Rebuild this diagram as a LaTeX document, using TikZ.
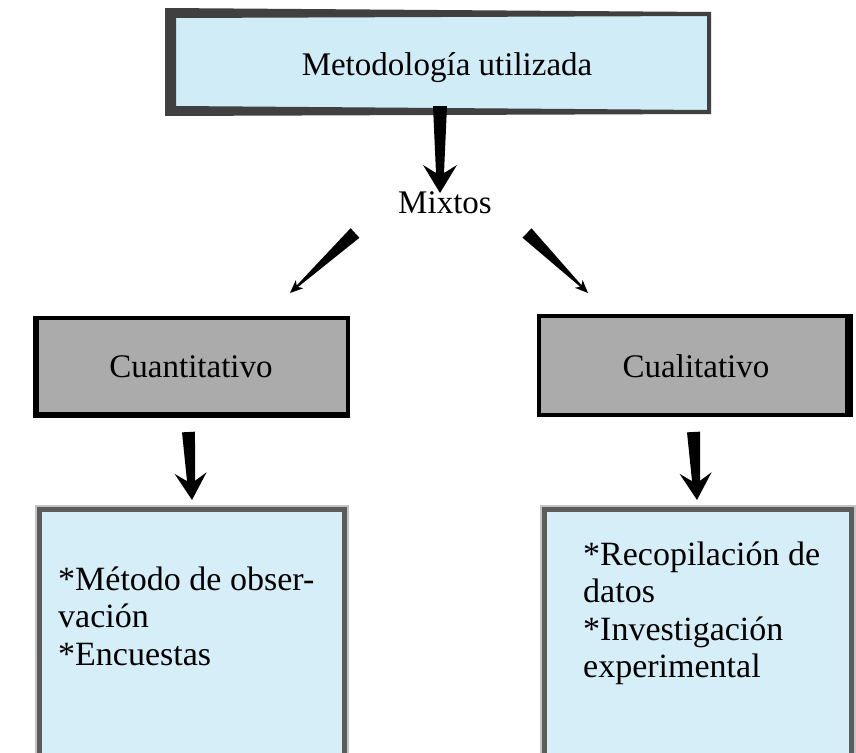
\documentclass[tikz,border=0pt]{standalone}
\usepackage{fontspec}
\setmainfont{Liberation Serif}
\usetikzlibrary{calc}
\definecolor{topblue}{HTML}{D0ECF7}
\definecolor{botblue}{HTML}{D6EEF8}
\definecolor{topborder}{HTML}{404040}
\definecolor{boxgray}{HTML}{ABABAB}
\definecolor{botborder}{HTML}{5C5C5C}
\definecolor{botouter}{HTML}{C4C4C4}
\newcommand\taper[7]{%
  \coordinate (tpN) at ($(#2)!#7!(#1)$);
  \coordinate (tpH) at ($(#2)!#5!(#1)$);
  \fill[arrowfill] ($(#1)!#3!90:(#2)$) -- ($(tpN)!#4!-90:(#1)$) -- ($(tpH)!#6!-90:(#1)$) -- (#2)
    -- ($(tpH)!#6!90:(#1)$) -- ($(tpN)!#4!90:(#1)$) -- ($(#1)!#3!-90:(#2)$) -- cycle;}
\begin{document}
\begin{tikzpicture}[x=1pt,y=-1pt,
  arrowfill/.style={fill=black},
  titletext/.style={font=\fontsize{33}{38}\selectfont, inner sep=0pt, anchor=base},
  graybox/.style={draw=black, fill=boxgray, line width=4.5pt},
  bluebox/.style={draw=botborder, fill=botblue, line width=5pt},
  bodytext/.style={font=\fontsize{34}{37.5}\selectfont, inner sep=0pt, anchor=base west}]
\useasboundingbox (0,0) rectangle (856,752);
\begin{scope}
\clip (0,0) rectangle (856,752);
% top box
\fill[topblue] (170,13) -- (709,14) -- (709,112) -- (170,111) -- cycle;
\fill[topborder, even odd rule] (165,8) -- (711,12) -- (711,114) -- (165,116) -- cycle
  (176,18) -- (707,16) -- (707,110) -- (176,106) -- cycle;
\node[titletext] (top) at (447,75) {Metodología utilizada};
\node[titletext] (mix) at (445,213) {Mixtos};
% gray boxes
\draw[graybox] (35.5,318) rectangle (348,416);
\fill[black] (33,318) rectangle (38.5,418);
\fill[black] (33,412) rectangle (350,418);
\node[titletext] (cuan) at (191,377) {Cuantitativo};
\draw[graybox] (539,316) rectangle (849,415);
\fill[black] (845,314) rectangle (853,417);
\node[titletext] (cual) at (696,377) {Cualitativo};
% bottom boxes
\draw[botouter, line width=9pt] (39.5,509) rectangle (344.5,800);
\draw[bluebox] (39.5,509) rectangle (344.5,800);
\draw[botouter, line width=9pt] (544.5,509) rectangle (851,800);
\draw[bluebox] (544.5,509) rectangle (851,800);
\node[bodytext] (ltext) at (58,590) {\begin{tabular}[t]{@{}l@{}}{*}Método de obser-\\{}vación\\{*}Encuestas\end{tabular}};
\node[bodytext] (rtext) at (583,565) {\begin{tabular}[t]{@{}l@{}}{*}Recopilación de\\{}datos\\{*}Investigación\\{}experimental\end{tabular}};
% arrows
\coordinate (ts) at (440,106);
\coordinate (te) at (440,193);
\taper{ts}{te}{7pt}{4pt}{28pt}{17pt}{20pt}
\coordinate (ls) at (355,233);
\coordinate (le) at (290,293);
\taper{ls}{le}{6.5pt}{1pt}{13pt}{5.5pt}{10pt}
\coordinate (rs) at (527,233);
\coordinate (re) at (588,293);
\taper{rs}{re}{6.5pt}{1pt}{13pt}{5.5pt}{10pt}
\coordinate (dls) at (188.5,432);
\coordinate (dle) at (192,500);
\taper{dls}{dle}{6.5pt}{4pt}{27pt}{16pt}{19pt}
\coordinate (drs) at (693.5,432);
\coordinate (dre) at (697,500);
\taper{drs}{dre}{6.5pt}{4pt}{27pt}{16pt}{19pt}
\end{scope}
\end{tikzpicture}
\end{document}
